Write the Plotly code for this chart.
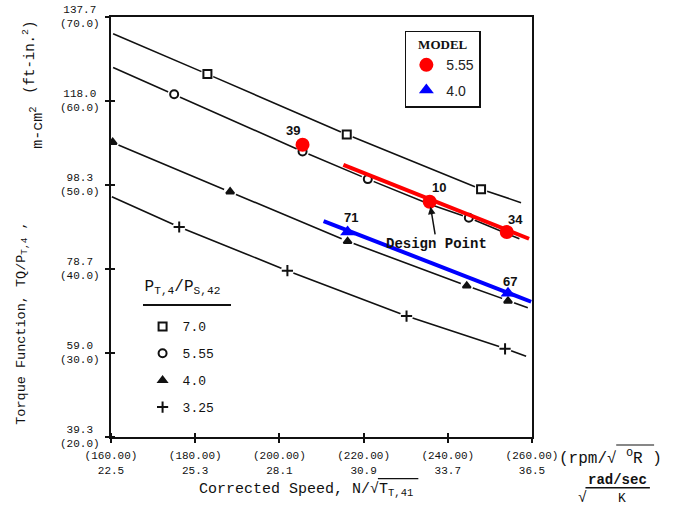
import plotly.graph_objects as go

# ---------------- data ----------------
x_tick_vals = [160, 180, 200, 220, 240, 260]
x_tick_text = ["(160.00)<br>22.5", "(180.00)<br>25.3", "(200.00)<br>28.1",
               "(220.00)<br>30.9", "(240.00)<br>33.7", "(260.00)<br>36.5"]
y_tick_vals = [20, 30, 40, 50, 60, 70]
y_tick_text = ["39.3<br>(20.0)", "59.0<br>(30.0)", "78.7<br>(40.0)",
               "98.3<br>(50.0)", "118.0<br>(60.0)", "137.7<br>(70.0)"]

# black curves (pressure ratio lines)
pr_names = ["7.0", "5.55", "4.0", "3.25"]
pr_symbols = ["square-open", "circle-open", "triangle-up", "cross-thin-open"]
line_x = {
    "7.0":  [160.5, 182.9, 216.0, 247.9, 257.4],
    "5.55": [160.5, 175.0, 205.5, 221.0, 235.7, 245.0, 257.0],
    "4.0":  [160.2, 188.3, 216.2, 244.5, 254.3, 259.0],
    "3.25": [160.2, 176.2, 201.9, 230.2, 253.8, 258.6],
}
line_y = {
    "7.0":  [68.0, 63.2, 56.0, 49.5, 47.9],
    "5.55": [64.0, 60.8, 54.0, 50.7, 47.7, 46.1, 43.6],
    "4.0":  [55.1, 49.2, 43.3, 38.0, 36.2, 35.4],
    "3.25": [48.6, 45.0, 39.8, 34.4, 30.5, 29.6],
}
mark_x = {
    "7.0":  [182.9, 216.0, 247.9],
    "5.55": [175.0, 205.5, 221.0, 245.0],
    "4.0":  [160.4, 188.3, 216.2, 244.5, 254.3],
    "3.25": [176.2, 201.9, 230.2, 253.6],
}
mark_y = {
    "7.0":  [63.2, 56.0, 49.5],
    "5.55": [60.8, 54.0, 50.7, 46.1],
    "4.0":  [55.1, 49.2, 43.3, 38.0, 36.2],
    "3.25": [45.0, 39.8, 34.4, 30.5],
}

# model lines
red_line_x = [215.2, 259.3]
red_line_y = [52.4, 43.6]
red_pts_x = [205.5, 235.7, 254.0]
red_pts_y = [54.8, 48.0, 44.4]
red_labels = ["39", "10", "34"]

blue_line_x = [210.5, 259.8]
blue_line_y = [45.7, 36.1]
blue_pts_x = [216.2, 254.3]
blue_pts_y = [44.4, 37.1]
blue_labels = ["71", "67"]

# pixel offsets of the run-number labels from their points
red_label_shift = [(-10, 14), (9, 14), (9, 13)]
blue_label_shift = [(3, 15), (2, 12)]

design_x, design_y = red_pts_x[1], red_pts_y[1]

MONO = "Liberation Mono"
SANS = "Liberation Sans, Arial"
SERIF = "Liberation Serif"

fig = go.Figure()

# black lines
for n in pr_names:
    fig.add_trace(go.Scatter(x=line_x[n], y=line_y[n], mode="lines",
                             line=dict(color="#111", width=1.6),
                             showlegend=False, hoverinfo="skip"))
# white gaps around markers
for n in pr_names:
    fig.add_trace(go.Scatter(x=mark_x[n], y=mark_y[n], mode="markers",
                             marker=dict(color="white", size=13, symbol="circle"),
                             showlegend=False, hoverinfo="skip"))
# black markers (also legend 2)
for i, n in enumerate(pr_names):
    sym = pr_symbols[i]
    size = 8 if sym != "triangle-up" else 7
    fig.add_trace(go.Scatter(x=mark_x[n], y=mark_y[n], mode="markers", name=n,
                             marker=dict(color="#111", size=size, symbol=sym,
                                         line=dict(color="#111", width=2)),
                             legend="legend2", legendgroup="g" + n))

# red model
fig.add_trace(go.Scatter(x=red_line_x, y=red_line_y, mode="lines",
                         line=dict(color="#ff0000", width=4),
                         showlegend=False, hoverinfo="skip"))
fig.add_trace(go.Scatter(x=red_pts_x, y=red_pts_y, mode="markers", name="5.55",
                         marker=dict(color="#ff0000", size=14, symbol="circle"),
                         legend="legend", legendgroup="m1"))
# blue model
fig.add_trace(go.Scatter(x=blue_line_x, y=blue_line_y, mode="lines",
                         line=dict(color="#0000ff", width=4),
                         showlegend=False, hoverinfo="skip"))
fig.add_trace(go.Scatter(x=blue_pts_x, y=blue_pts_y, mode="markers", name="4.0",
                         marker=dict(color="#0000ff", size=13, symbol="triangle-up"),
                         legend="legend", legendgroup="m2"))

# run-number labels
for xs, ys, labs, shifts in [(red_pts_x, red_pts_y, red_labels, red_label_shift),
                             (blue_pts_x, blue_pts_y, blue_labels, blue_label_shift)]:
    for xv, yv, lab, (dx, dy) in zip(xs, ys, labs, shifts):
        fig.add_annotation(x=xv, y=yv, xref="x", yref="y", text="<b>%s</b>" % lab,
                           showarrow=False, xshift=dx, yshift=dy,
                           font=dict(family=SANS, size=13, color="#111"))

axis_common = dict(showgrid=False, zeroline=False, showline=True, mirror=True,
                   linecolor="#111", linewidth=2, ticks="outside", ticklen=4,
                   tickwidth=1.5, tickcolor="#111")

fig.update_layout(
    width=683, height=516, autosize=False,
    margin=dict(l=111, r=151, t=17, b=79),
    paper_bgcolor="white", plot_bgcolor="white",
    xaxis=dict(range=[160, 260], tickvals=x_tick_vals, ticktext=x_tick_text,
               tickfont=dict(family=MONO, size=11, color="#111"),
               ticklabelstandoff=3,
               minor=dict(ticks="inside", ticklen=4, tickwidth=1.5, tickcolor="#111",
                          tickvals=[v + 0.01 for v in x_tick_vals], showgrid=False),
               **axis_common),
    yaxis=dict(range=[20, 70], tickvals=y_tick_vals, showticklabels=False,
               minor=dict(ticks="inside", ticklen=4, tickwidth=1.5, tickcolor="#111",
                          tickvals=[v + 0.005 for v in y_tick_vals], showgrid=False),
               **axis_common),
    legend=dict(x=0.698, y=0.967, xanchor="left", yanchor="top",
                bordercolor="#111", borderwidth=1.5, bgcolor="white",
                font=dict(family=SANS, size=14, color="#222"),
                title=dict(text="<b>MODEL</b>", side="top center",
                           font=dict(family=SERIF, size=13, color="#111")),
                tracegroupgap=4, itemwidth=30),
    legend2=dict(x=0.075, y=0.398, xanchor="left", yanchor="top",
                 borderwidth=0, bgcolor="rgba(0,0,0,0)",
                 font=dict(family=MONO, size=13, color="#111"),
                 title=dict(text="P<sub>T,4</sub>/P<sub>S,42</sub><br> ", side="top",
                            font=dict(family=MONO, size=16, color="#111")),
                 tracegroupgap=7, itemwidth=30),
    showlegend=True,
)

# y tick labels (centered two-line)
for v, t in zip(y_tick_vals, y_tick_text):
    fig.add_annotation(x=0, xref="paper", y=v, yref="y", text=t, showarrow=False,
                       xanchor="right", yanchor="middle", xshift=-9, align="center",
                       font=dict(family=MONO, size=11, color="#111"))

# design point arrow
fig.add_annotation(x=design_x, y=design_y, xref="x", yref="y",
                   text="<b>Design Point</b>", showarrow=True, ax=7, ay=42,
                   arrowhead=2, arrowsize=1, arrowwidth=1.5, arrowcolor="#111",
                   standoff=5, font=dict(family=MONO, size=14, color="#111"))

# axis titles
fig.add_annotation(x=0.204, y=-0.126, xref="paper", yref="paper", xanchor="left",
                   yanchor="middle", showarrow=False,
                   text="Corrected Speed, N/\u221aT<sub>T,41</sub>",
                   font=dict(family=MONO, size=15, color="#111"))
fig.add_annotation(x=-0.211, y=0.27, xref="paper", yref="paper", showarrow=False,
                   textangle=-90, xanchor="center", yanchor="middle",
                   text="Torque Function, TQ/P<sub>T,4</sub> ,",
                   font=dict(family=MONO, size=13.5, color="#111"))
fig.add_annotation(x=-0.175, y=0.737, xref="paper", yref="paper", showarrow=False,
                   textangle=-90, xanchor="center", yanchor="middle",
                   text="m-cm<sup>2</sup>",
                   font=dict(family=MONO, size=15, color="#111"))
fig.add_annotation(x=-0.195, y=0.905, xref="paper", yref="paper", showarrow=False,
                   textangle=-90, xanchor="center", yanchor="middle",
                   text="(ft-in.<sup>2</sup>)",
                   font=dict(family=MONO, size=14, color="#111"))

# units on right
fig.add_annotation(x=1.059, y=-0.048, xref="paper", yref="paper", xanchor="left",
                   yanchor="middle", showarrow=False,
                   text="(rpm/\u221a <sup>O</sup>R )",
                   font=dict(family=MONO, size=16, color="#111"))
fig.add_annotation(x=1.204, y=-0.102, xref="paper", yref="paper", xanchor="center",
                   yanchor="middle", showarrow=False, text="<b>rad/sec</b>",
                   font=dict(family=MONO, size=14, color="#111"))
fig.add_annotation(x=1.214, y=-0.147, xref="paper", yref="paper", xanchor="center",
                   yanchor="middle", showarrow=False, text="K",
                   font=dict(family=MONO, size=13, color="#111"))
fig.add_annotation(x=1.119, y=-0.145, xref="paper", yref="paper", xanchor="center",
                   yanchor="middle", showarrow=False, text="\u221a",
                   font=dict(family=MONO, size=15, color="#111"))

# decoration lines (underlines / radicals)
def pline(x0, x1, y, w=1.5):
    fig.add_shape(type="line", xref="paper", yref="paper", x0=x0, x1=x1, y0=y, y1=y,
                  line=dict(color="#111", width=w))

pline(0.729, 0.867, 0.917, 2)          # MODEL underline
pline(0.076, 0.285, 0.314, 2)          # P ratio underline
pline(1.200, 1.290, -0.019, 1.2)       # rpm radical
pline(1.127, 1.280, -0.121, 1.5)       # fraction bar
pline(0.634, 0.730, -0.099, 1.2)       # x title radical

fig.write_html("out.html")
